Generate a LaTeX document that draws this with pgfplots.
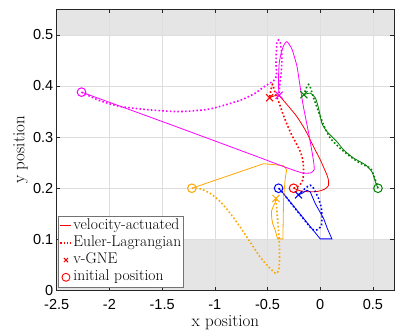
\documentclass[border=0pt]{standalone}
\usepackage{fontspec}
\usepackage{pgfplots}
\pgfplotsset{compat=1.18}
\newfontfamily\helv{Liberation Sans}
\definecolor{mred}{rgb}{1,0,0}
\definecolor{morange}{rgb}{1,0.65,0}
\definecolor{mgreen}{rgb}{0,0.5,0}
\definecolor{mmag}{rgb}{1,0,1}
\definecolor{shade}{rgb}{0.9,0.9,0.9}
\pgfplotsset{
  legsolid/.style={legend image code/.code={\draw[draw=mred, solid, line width=1.5pt] (0pt,0pt) -- (11pt,0pt);}},
  legdot/.style={legend image code/.code={\draw[draw=mred, line width=1.6pt, dash pattern=on 1.6pt off 1.6pt] (0pt,0pt) -- (11pt,0pt);}},
  legx/.style={legend image code/.code={\draw[mred, solid, line width=0.9pt, mark=x, mark size=3pt] plot coordinates {(5.5pt,0pt)};}},
  lego/.style={legend image code/.code={\draw[mred, solid, line width=0.9pt, mark=o, mark size=4pt] plot coordinates {(5.5pt,0pt)};}},
  solL/.style={line width=0.8pt},
  dotL/.style={line width=1.6pt, dash pattern=on 1.6pt off 2.2pt},
  gneL/.style={only marks, mark=x, mark size=5pt, line width=1pt},
  iniL/.style={only marks, mark=o, mark size=4.3pt, line width=1pt},
  sol/.style={solL, forget plot},
  dot/.style={dotL, forget plot},
  gne/.style={gneL, forget plot},
  ini/.style={iniL, forget plot},
}

\begin{document}
\begin{tikzpicture}
\begin{axis}[
  set layers,
  scale only axis, width=337pt, height=281pt,
  xmin=-2.5, xmax=0.7, ymin=0, ymax=0.55,
  xtick={-2.5,-2,-1.5,-1,-0.5,0,0.5},
  ytick={0,0.1,0.2,0.3,0.4,0.5},
  grid=major, grid style={black!13, line width=0.5pt},
  tick align=inside, major tick length=3.5pt,
  tick style={black!85, line width=0.5pt},
  axis line style={black!85, line width=0.6pt},
  ticklabel style={font=\helv\fontsize{14.5}{16}\selectfont},
  xticklabel style={yshift=-5pt},
  /pgf/number format/assume math mode=true,
  xlabel={x position}, ylabel={y position},
  label style={font=\fontsize{17}{19}\selectfont},
  xlabel style={at={(axis description cs:0.5,-0.114)}, anchor=center},
  ylabel style={at={(axis description cs:-0.107,0.5)}, anchor=center},
  legend cell align=left,
  legend style={at={(axis description cs:0,0)}, anchor=south west,
    xshift=1.6pt, yshift=3.3pt, draw=black!55, line width=0.6pt,
    font=\fontsize{15.5}{17}\selectfont, inner sep=1pt,
    nodes={inner sep=1.2pt, text height=11pt, text depth=3.8pt}},
]
% constraint regions
\addplot[fill=shade, draw=none, on layer=axis background, forget plot]
  coordinates {(-2.5,0.5) (0.7,0.5) (0.7,0.55) (-2.5,0.55)} -- cycle;
\addplot[fill=shade, draw=none, on layer=axis background, forget plot]
  coordinates {(-2.5,0) (0.7,0) (0.7,0.1) (-2.5,0.1)} -- cycle;

% red agent (carries the legend)
\addplot[solL, mred, smooth, tension=0.4, legsolid] coordinates {
  (-0.253,0.2) (-0.19,0.195) (-0.10,0.193) (-0.02,0.194) (0.04,0.198)
  (0.078,0.205) (0.078,0.216) (0.064,0.226) (0.03,0.242) (0.0,0.256)
  (-0.04,0.272) (-0.079,0.288) (-0.142,0.314) (-0.221,0.34) (-0.30,0.36)
  (-0.35,0.372) (-0.385,0.38) (-0.43,0.381) (-0.48,0.377)};
\addlegendentry{velocity-actuated}
\addplot[dotL, mred, smooth, tension=0.4, legdot] coordinates {
  (-0.253,0.2) (-0.2,0.205) (-0.166,0.216) (-0.158,0.236) (-0.166,0.256)
  (-0.19,0.272) (-0.221,0.285) (-0.284,0.31) (-0.348,0.342) (-0.395,0.37)
  (-0.427,0.386) (-0.452,0.403) (-0.468,0.392) (-0.48,0.377)};
\addlegendentry{Euler-Lagrangian}
\addplot[gneL, mred, legx] coordinates {(-0.48,0.377)};
\addlegendentry{v-GNE}
\addplot[iniL, mred, lego] coordinates {(-0.253,0.2)};
\addlegendentry{initial position}

% green agent
\addplot[sol, mgreen, smooth, tension=0.4] coordinates {
  (0.548,0.2) (0.523,0.213) (0.491,0.232) (0.428,0.246) (0.317,0.259)
  (0.222,0.275) (0.159,0.291) (0.064,0.311) (0.016,0.327) (-0.016,0.357)
  (-0.047,0.377) (-0.095,0.386) (-0.155,0.383)};
\addplot[dot, mgreen, smooth, tension=0.4] coordinates {
  (0.548,0.2) (0.53,0.212) (0.507,0.226) (0.475,0.239) (0.38,0.249)
  (0.285,0.262) (0.19,0.278) (0.095,0.298) (0.032,0.324) (-0.016,0.35)
  (-0.063,0.377) (-0.095,0.398) (-0.11,0.403) (-0.13,0.397) (-0.155,0.383)};
\addplot[gne, mgreen] coordinates {(-0.155,0.383)};

% blue agent
\addplot[sol, blue] coordinates {
  (-0.395,0.2) (-0.363,0.193) (0.0,0.101) (0.111,0.101) (0.07,0.12)
  (0.032,0.141) (-0.047,0.17) (-0.095,0.193) (-0.126,0.196)
  (-0.173,0.19) (-0.206,0.187)};
\addplot[dot, blue, smooth, tension=0.3] coordinates {
  (-0.395,0.2) (-0.363,0.193) (-0.095,0.124) (-0.05,0.118) (-0.016,0.12)
  (0.012,0.128) (0.018,0.145) (0.01,0.162) (-0.016,0.18) (-0.063,0.2)
  (-0.095,0.206) (-0.142,0.2) (-0.206,0.187)};
\addplot[gne, blue] coordinates {(-0.206,0.187)};

% orange agent
\addplot[sol, morange] coordinates {
  (-1.218,0.2) (-0.538,0.248) (-0.43,0.246) (-0.348,0.244) (-0.318,0.236)
  (-0.33,0.222) (-0.34,0.2) (-0.348,0.177) (-0.354,0.101) (-0.405,0.101)
  (-0.427,0.118) (-0.45,0.13) (-0.46,0.141) (-0.463,0.155) (-0.445,0.165)
  (-0.427,0.172) (-0.42,0.18)};
\addplot[dot, morange, smooth, tension=0.4] coordinates {
  (-1.218,0.2) (-1.139,0.199) (-1.044,0.19) (-0.949,0.174) (-0.854,0.151)
  (-0.759,0.124) (-0.665,0.095) (-0.569,0.065) (-0.474,0.043) (-0.417,0.033)
  (-0.392,0.042) (-0.386,0.065) (-0.389,0.098) (-0.402,0.131) (-0.411,0.157)
  (-0.42,0.18)};
\addplot[gne, morange] coordinates {(-0.42,0.18)};

% magenta agent
\addplot[sol, mmag, smooth, tension=0.3] coordinates {
  (-2.265,0.388) (-1.4,0.323) (-0.60,0.262) (-0.33,0.241) (-0.17,0.230)
  (-0.09,0.230) (-0.058,0.236) (-0.06,0.248) (-0.075,0.268) (-0.11,0.308)
  (-0.16,0.36) (-0.19,0.398) (-0.221,0.439) (-0.268,0.472) (-0.316,0.487)
  (-0.345,0.480) (-0.37,0.465) (-0.389,0.445) (-0.395,0.42) (-0.394,0.385)};
\addplot[dot, mmag, smooth, tension=0.4] coordinates {
  (-2.265,0.388) (-2.1,0.372) (-1.9,0.36) (-1.6,0.353) (-1.33,0.35)
  (-1.05,0.355) (-0.76,0.372) (-0.617,0.386) (-0.522,0.4) (-0.443,0.41)
  (-0.415,0.42) (-0.42,0.445) (-0.415,0.47) (-0.41,0.488) (-0.395,0.49)
  (-0.379,0.485) (-0.363,0.458) (-0.37,0.426) (-0.385,0.40) (-0.39,0.385)};
\addplot[gne, mmag] coordinates {(-0.39,0.382)};

% initial positions
\addplot[ini, mgreen] coordinates {(0.548,0.2)};
\addplot[ini, blue] coordinates {(-0.395,0.2)};
\addplot[ini, morange] coordinates {(-1.218,0.2)};
\addplot[ini, mmag] coordinates {(-2.265,0.388)};

\coordinate (bl) at (rel axis cs:0,0);
\coordinate (tr) at (rel axis cs:1,1);
\end{axis}
\pgfresetboundingbox
\path[use as bounding box] ([shift={(-56.7pt,-42pt)}]bl) rectangle ([shift={(21pt,9.3pt)}]tr);
\end{tikzpicture}
\end{document}
